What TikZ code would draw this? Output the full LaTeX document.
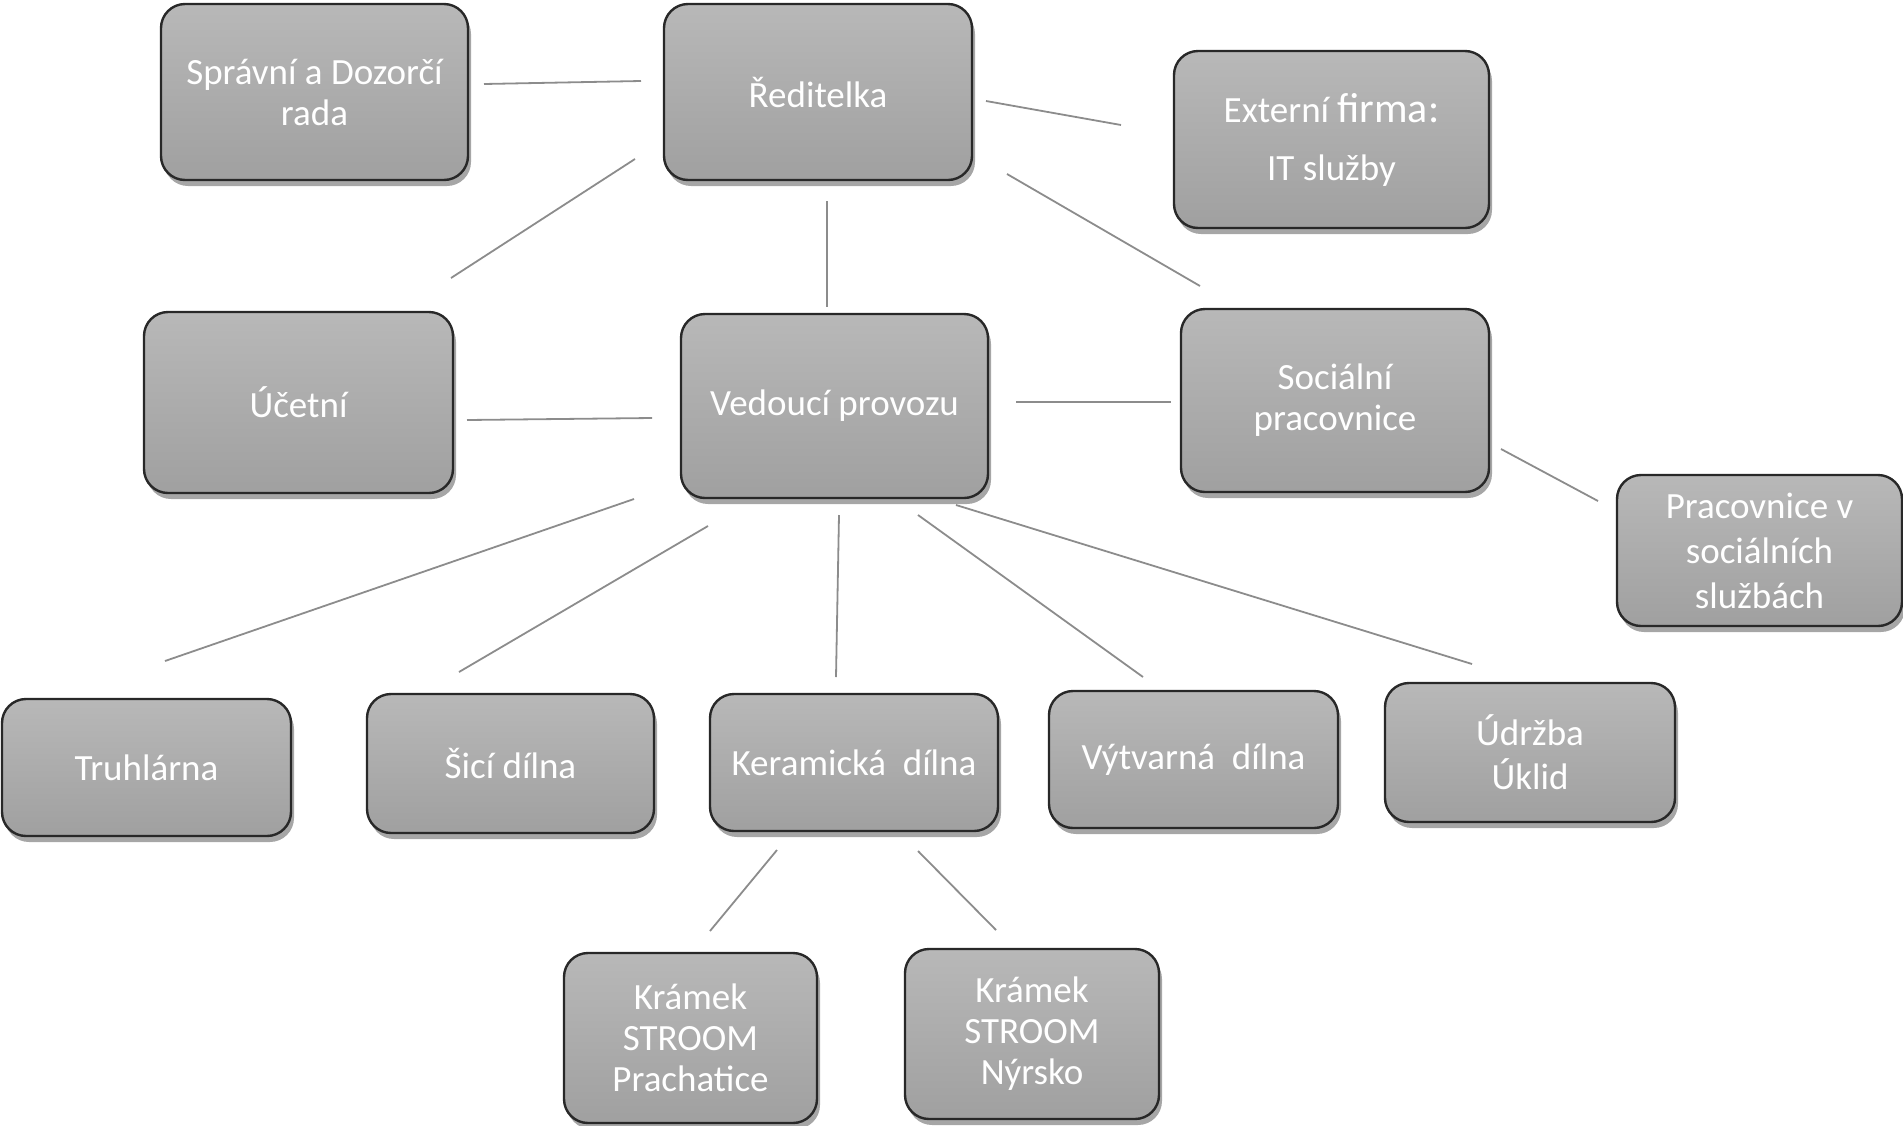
\documentclass[tikz,border=0pt]{standalone}
\usepackage{fontspec}
\setmainfont{Carlito}
\usetikzlibrary{shadows}
\definecolor{boxtop}{RGB}{184,184,184}
\definecolor{boxbot}{RGB}{160,160,160}
\definecolor{boxedge}{RGB}{40,40,40}
\definecolor{linegray}{RGB}{140,140,140}
\tikzset{
  orgbox/.style={rectangle, rounded corners=24pt, draw=boxedge, line width=2.4pt,
    top color=boxtop, bottom color=boxbot, text=white, align=center,
    font=\fontsize{37}{41}\selectfont, inner sep=0pt,
    drop shadow={shadow xshift=3pt, shadow yshift=-6pt, opacity=0.35, fill=black}},
  conn/.style={draw=linegray, line width=1.8pt}
}
\begin{document}
\begin{tikzpicture}[x=1pt,y=-1pt]
\useasboundingbox (0,0) rectangle (1903,1125);
% boxes
\node[orgbox, minimum width=307pt, minimum height=176pt] (sdr) at (314.5,92) {Správní a Dozorčí\\rada};
\node[orgbox, minimum width=308pt, minimum height=176pt] (red) at (818,92) {Ředitelka};
\node[orgbox, minimum width=315pt, minimum height=177pt, font=\fontsize{37}{58}\selectfont] (ext) at (1331.5,139.5) {Externí {\fontsize{42}{58}\selectfont firma:}\\IT služby};
\node[orgbox, minimum width=309pt, minimum height=181pt] (uct) at (298.5,402.5) {Účetní};
\node[orgbox, minimum width=307pt, minimum height=184pt] (ved) at (834.5,406) {Vedoucí provozu};
\node[orgbox, minimum width=308pt, minimum height=183pt] (soc) at (1335,400.5) {Sociální\\pracovnice};
\node[orgbox, minimum width=285pt, minimum height=151pt, font=\fontsize{37}{45}\selectfont] (prac) at (1759.5,550.5) {Pracovnice v\\sociálních\\službách};
\node[orgbox, minimum width=289pt, minimum height=137pt] (tru) at (146.5,767.5) {Truhlárna};
\node[orgbox, minimum width=287pt, minimum height=139pt] (sic) at (510.5,763.5) {Šicí dílna};
\node[orgbox, minimum width=288pt, minimum height=137pt] (ker) at (854,762.5) {Keramická\ \ dílna};
\node[orgbox, minimum width=289pt, minimum height=137pt] (vyt) at (1193.5,759.5) {Výtvarná\ \ dílna};
\node[orgbox, minimum width=290pt, minimum height=139pt, font=\fontsize{37}{44}\selectfont] (udr) at (1530,752.5) {Údržba\\Úklid};
\node[orgbox, minimum width=253pt, minimum height=170pt] (pra) at (690.5,1038) {Krámek\\STROOM\\Prachatice};
\node[orgbox, minimum width=254pt, minimum height=170pt] (nyr) at (1032,1034) {Krámek\\STROOM\\Nýrsko};
% connector end points (lines float between boxes)
\coordinate (sdrR) at (484,84);   \coordinate (redL) at (641,81);
\coordinate (redR) at (986,101);  \coordinate (extL) at (1121,125);
\coordinate (redBL) at (635,159); \coordinate (uctT) at (451,278);
\coordinate (redB) at (827,201);  \coordinate (vedT) at (827,307);
\coordinate (redBR) at (1007,174);\coordinate (socT) at (1200,286);
\coordinate (uctR) at (467,420);  \coordinate (vedL) at (652,418);
\coordinate (vedR) at (1016,402); \coordinate (socL) at (1171,402);
\coordinate (socBR) at (1501,449);\coordinate (pracL) at (1598,501);
\coordinate (v1) at (634,499);    \coordinate (truT) at (165,661);
\coordinate (v2) at (708,526);    \coordinate (sicT) at (459,672);
\coordinate (v3) at (839,515);    \coordinate (kerT) at (836,677);
\coordinate (v4) at (918,515);    \coordinate (vytT) at (1143,677);
\coordinate (v5) at (956,505);    \coordinate (udrT) at (1472,664);
\coordinate (k1) at (777,850);    \coordinate (praT) at (710,931);
\coordinate (k2) at (918,851);    \coordinate (nyrT) at (996,930);
% connectors
\draw[conn] (sdrR) -- (redL);
\draw[conn] (redR) -- (extL);
\draw[conn] (redBL) -- (uctT);
\draw[conn] (redB) -- (vedT);
\draw[conn] (redBR) -- (socT);
\draw[conn] (uctR) -- (vedL);
\draw[conn] (vedR) -- (socL);
\draw[conn] (socBR) -- (pracL);
\draw[conn] (v1) -- (truT);
\draw[conn] (v2) -- (sicT);
\draw[conn] (v3) -- (kerT);
\draw[conn] (v4) -- (vytT);
\draw[conn] (v5) -- (udrT);
\draw[conn] (k1) -- (praT);
\draw[conn] (k2) -- (nyrT);
\end{tikzpicture}
\end{document}
